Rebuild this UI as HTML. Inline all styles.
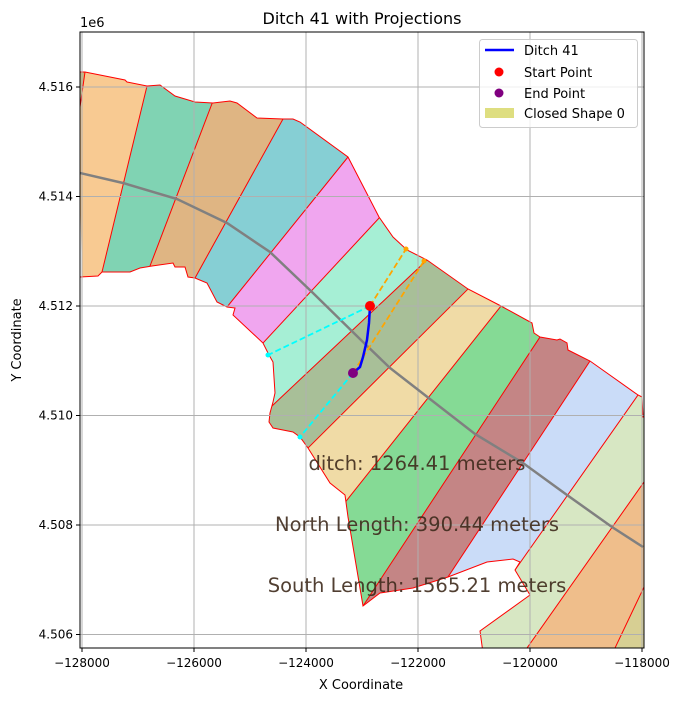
<!DOCTYPE html>
<html><head><meta charset="utf-8"><style>
html,body{margin:0;padding:0;background:#fff;overflow:hidden;}
svg{display:block;}
svg text{font-family:"DejaVu Sans","Liberation Sans",sans-serif;}
</style></head><body>
<svg id="chart" width="675" height="701" xmlns="http://www.w3.org/2000/svg">
<defs><clipPath id="plotclip"><rect x="80" y="32" width="564" height="616"/></clipPath>
<clipPath id="regclip"><polygon id="regpoly"/></clipPath></defs>
<rect x="0" y="0" width="675" height="701" fill="#fff"/>
<g id="strips" clip-path="url(#plotclip)"></g>
<g id="grid"></g>
<g id="marks" clip-path="url(#plotclip)"></g>
<rect x="80" y="32" width="564" height="616" fill="none" stroke="#000" stroke-width="1"/>
<g id="axes"></g>
<text x="362" y="24" font-size="16" text-anchor="middle">Ditch 41 with Projections</text>
<text x="80" y="27" font-size="13">1e6</text>
<text x="361" y="689" font-size="13" text-anchor="middle">X Coordinate</text>
<text x="21" y="340" font-size="13" text-anchor="middle" transform="rotate(-90 21 340)">Y Coordinate</text>
<g font-size="19.5" fill="#3e2a1c" fill-opacity="0.9" text-anchor="middle">
<text x="417" y="470">ditch: 1264.41 meters</text>
<text x="417" y="531">North Length: 390.44 meters</text>
<text x="417" y="592">South Length: 1565.21 meters</text>
</g>
<g>
<rect x="479.5" y="39.5" width="158" height="88" rx="3" fill="#fff" fill-opacity="0.8" stroke="#ccc"/>
<line x1="485" y1="50" x2="514" y2="50" stroke="#0000ff" stroke-width="2.5"/>
<text x="524" y="55" font-size="13">Ditch 41</text>
<circle cx="499" cy="72" r="4.5" fill="#ff0000"/>
<text x="524" y="77" font-size="13">Start Point</text>
<circle cx="499" cy="93" r="4.5" fill="#800080"/>
<text x="524" y="98" font-size="13">End Point</text>
<rect x="485" y="108" width="29" height="10" fill="#dede80"/>
<text x="524" y="118" font-size="13">Closed Shape 0</text>
</g>
</svg>
<script>
const NS="http://www.w3.org/2000/svg";
const xTicks=[-128000,-126000,-124000,-122000,-120000,-118000];
const xTickLabels=["\u2212128000","\u2212126000","\u2212124000","\u2212122000","\u2212120000","\u2212118000"];
const yTicks=[4506000,4508000,4510000,4512000,4514000,4516000];
const yTickLabels=["4.506","4.508","4.510","4.512","4.514","4.516"];
const centerX=[-128040,-127268,-126304,-125411,-124643,-123875,-122982,-122500,-120982,-120125,-119339,-118536,-117982];
const centerY=[4514430,4514247,4513954,4513516,4512986,4512237,4511342,4510868,4509662,4509132,4508548,4507963,4507598];
const ditchX=[-122857,-122875,-122911,-122982,-123036,-123161];
const ditchY=[4512000,4511690,4511379,4511068,4510886,4510776];
const startPt=[-122857,4512000];
const endPt=[-123161,4510776];
const northProjX=[-122214,-121893];
const northProjY=[4513041,4512822];
const southProjX=[-124679,-124107];
const southProjY=[4511105,4509607];
function X(v){return 82+(v+128000)*0.056;}
function Y(v){return 87+(4516000-v)*0.05475;}
function mk(tag,attrs,parent){const e=document.createElementNS(NS,tag);for(const k in attrs)e.setAttribute(k,attrs[k]);parent.appendChild(e);return e;}
const grid=document.getElementById('grid'),axes=document.getElementById('axes'),marks=document.getElementById('marks'),strips=document.getElementById('strips');
xTicks.forEach((t,i)=>{const px=X(t);
 const g=mk('line',{x1:px,x2:px,y1:32,y2:648,stroke:'#b0b0b0','stroke-width':1},grid);
 
 mk('line',{x1:px,x2:px,y1:648,y2:652,stroke:'#000'},axes);
 const tx=mk('text',{x:px,y:667,'font-size':12,'text-anchor':'middle'},axes);tx.textContent=xTickLabels[i];
 });
yTicks.forEach((t,i)=>{const py=Y(t);
 const g=mk('line',{x1:80,x2:644,y1:py,y2:py,stroke:'#b0b0b0','stroke-width':1},grid);
 
 mk('line',{x1:76,x2:80,y1:py,y2:py,stroke:'#000'},axes);
 const tx=mk('text',{x:73,y:py+4,'font-size':12,'text-anchor':'end'},axes);tx.textContent=yTickLabels[i];
 });
const region=[[80,72],[85,72],[125,80],[127,82],[147,86],[160,85],[175,96],[185,99],[195,102],[213,103],[230,101],[237,103],[257,118],[283,119],[293,119],[300,122],[348,157],[379,217],[393,237],[407,250],[427,260],[468,289],[501,306],[532,323],[534,333],[540,337],[557,340],[560,339],[567,343],[568,350],[590,361],[638,395],[642,397],[643,417],[650,417],[650,660],[484,660],[480,631],[530,595],[515,570],[520,562],[513,559],[487,562],[448,577],[413,588],[380,593],[363,606],[348,517],[345,495],[330,483],[308,448],[300,437],[293,432],[273,428],[269,422],[270,413],[273,402],[275,393],[273,362],[269,355],[263,343],[233,315],[235,308],[227,307],[217,302],[207,283],[195,278],[188,277],[185,267],[175,267],[173,263],[152,266],[140,268],[130,272],[102,272],[98,276],[80,277],[70,277],[70,72]];
const rp=region.map(p=>p.join(',')).join(' ');
document.getElementById('regpoly').setAttribute('points',rp);
const dividers=[[[60,60],[60,290]],[[85,72],[80,107]],[[147,86],[102,272]],[[213,101],[150,266]],[[283,119],[195,278]],[[348,157],[227,307]],[[380,217],[263,343]],[[427,260],[273,405]],[[468,289],[308,448]],[[501,306],[347,500]],[[540,337],[363,606]],[[590,361],[448,577]],[[638,395],[515,570]],[[644,482],[527,648]],[[644,587],[615,648]],[[720,560],[700,700]]];
const colors=['#c8b878','#f8ca92','#80d3b3','#dfb583','#86cfd4','#f0a6ef','#a6efd5','#a8bf98','#f0dba6','#85da95','#c48585','#cadcf8','#d7e7c3','#efbe8b','#d7cf93'];
function ext(d,f){const [a,b]=d;const dx=b[0]-a[0],dy=b[1]-a[1];return [[a[0]-dx*f,a[1]-dy*f],[b[0]+dx*f,b[1]+dy*f]];}
const sg=mk('g',{'clip-path':'url(#regclip)'},strips);
for(let i=0;i<colors.length;i++){const a=ext(dividers[i],0.4),b=ext(dividers[i+1],0.4);
 const p=mk('polygon',{points:[a[0],b[0],b[1],a[1]].map(q=>q.join(',')).join(' '),fill:colors[i]},sg);
 }
for(let i=1;i<dividers.length-1;i++){const a=ext(dividers[i],0.05);
 const l=mk('line',{x1:a[0][0],y1:a[0][1],x2:a[1][0],y2:a[1][1],stroke:'#ff0000','stroke-width':1},sg);
 }
const ol=mk('polygon',{points:rp,fill:'none',stroke:'#ff0000','stroke-width':1},strips);

const cl=mk('polyline',{points:centerX.map((x,i)=>X(x)+','+Y(centerY[i])).join(' '),fill:'none',stroke:'#808080','stroke-width':2.5},marks);

const pn1=mk('line',{x1:X(startPt[0]),y1:Y(startPt[1]),x2:X(northProjX[0]),y2:Y(northProjY[0]),stroke:'#ffa500','stroke-width':1.8,'stroke-dasharray':'6,3'},marks);

const pn2=mk('line',{x1:X(endPt[0]),y1:Y(endPt[1]),x2:X(northProjX[1]),y2:Y(northProjY[1]),stroke:'#ffa500','stroke-width':1.8,'stroke-dasharray':'6,3'},marks);

const ps1=mk('line',{x1:X(startPt[0]),y1:Y(startPt[1]),x2:X(southProjX[0]),y2:Y(southProjY[0]),stroke:'#00ffff','stroke-width':1.8,'stroke-dasharray':'6,3'},marks);

const ps2=mk('line',{x1:X(endPt[0]),y1:Y(endPt[1]),x2:X(southProjX[1]),y2:Y(southProjY[1]),stroke:'#00ffff','stroke-width':1.8,'stroke-dasharray':'6,3'},marks);

northProjX.forEach((x,i)=>{const c=mk('circle',{cx:X(x),cy:Y(northProjY[i]),r:2.5,fill:'#ffa500'},marks);
 });
southProjX.forEach((x,i)=>{const c=mk('circle',{cx:X(x),cy:Y(southProjY[i]),r:2.5,fill:'#00ffff'},marks);
 });
const dl=mk('polyline',{points:ditchX.map((x,i)=>X(x)+','+Y(ditchY[i])).join(' '),fill:'none',stroke:'#0000ff','stroke-width':2.5},marks);

const sp=mk('circle',{cx:X(startPt[0]),cy:Y(startPt[1]),r:5,fill:'#ff0000'},marks);

const ep=mk('circle',{cx:X(endPt[0]),cy:Y(endPt[1]),r:5,fill:'#800080'},marks);

</script>
</body></html>
